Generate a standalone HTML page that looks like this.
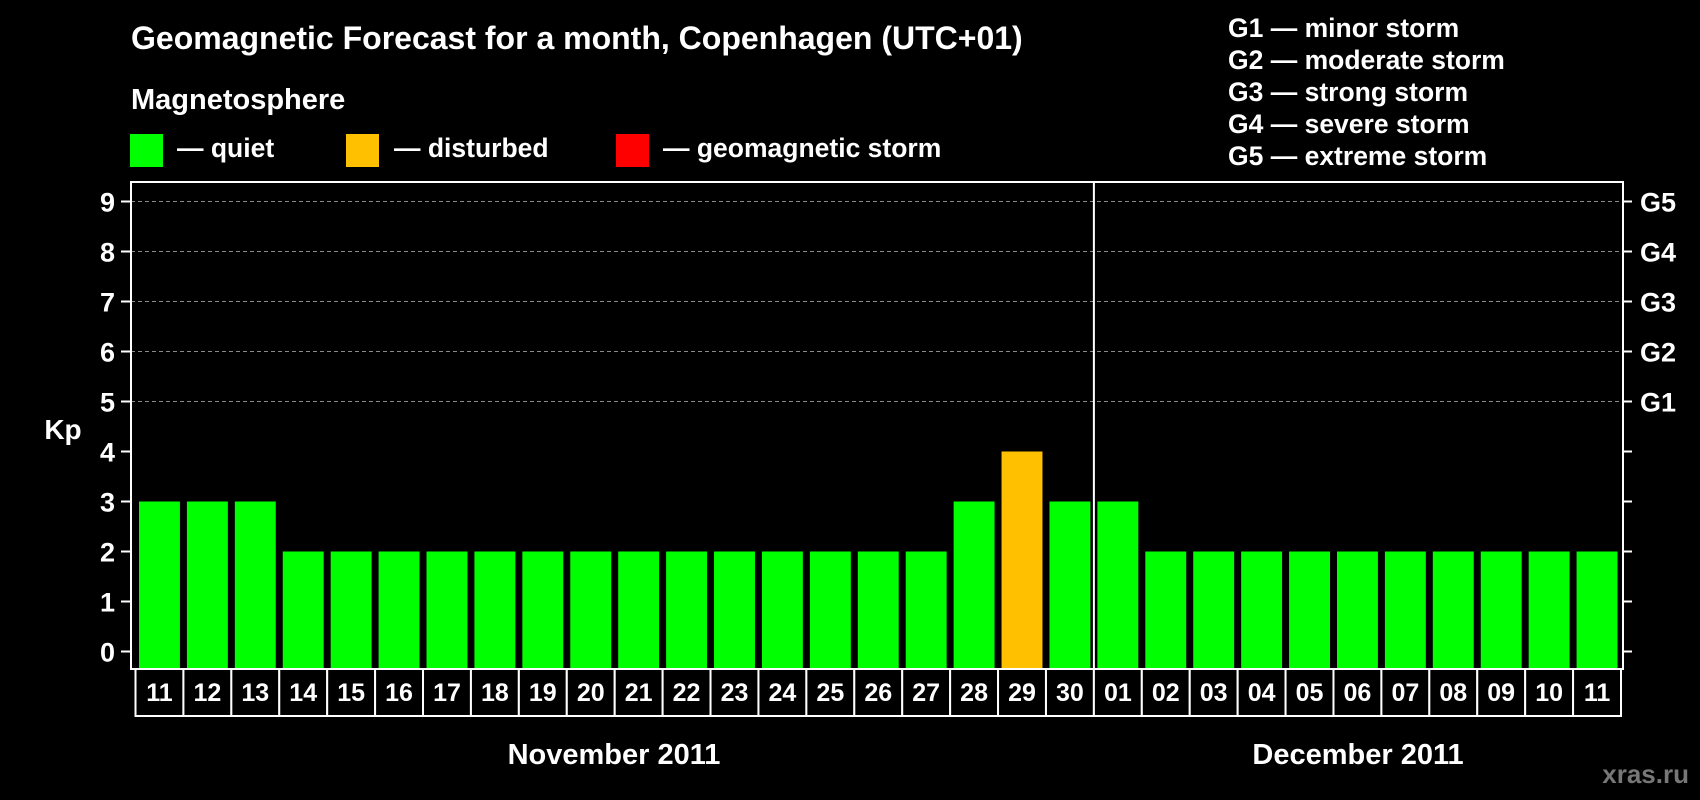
<!DOCTYPE html>
<html><head><meta charset="utf-8">
<style>
html,body{margin:0;padding:0;background:#000;}
svg{display:block;font-family:"Liberation Sans",Arial,sans-serif;font-weight:bold;}
</style></head>
<body>
<svg id="chart" width="1700" height="800" viewBox="0 0 1700 800">
<rect x="0" y="0" width="1700" height="800" fill="#000"/>
<text x="131" y="49" fill="#fff" font-size="32">Geomagnetic Forecast for a month, Copenhagen (UTC+01)</text>
<text x="131" y="109" fill="#fff" font-size="29">Magnetosphere</text>
<g>
<rect x="130" y="134" width="33" height="33" fill="#00ff00"/>
<text x="177" y="157" fill="#fff" font-size="26.5">— quiet</text></g>
<g>
<rect x="346" y="134" width="33" height="33" fill="#ffc000"/>
<text x="394" y="157" fill="#fff" font-size="26.5">— disturbed</text></g>
<g>
<rect x="616" y="134" width="33" height="33" fill="#ff0000"/>
<text x="663" y="157" fill="#fff" font-size="26.5">— geomagnetic storm</text></g>
<g fill="#fff" font-size="26.5">
<text x="1228" y="37">G1 — minor storm</text>
<text x="1228" y="69">G2 — moderate storm</text>
<text x="1228" y="101">G3 — strong storm</text>
<text x="1228" y="133">G4 — severe storm</text>
<text x="1228" y="165">G5 — extreme storm</text>
</g>
<text x="63" y="439" fill="#fff" font-size="28" text-anchor="middle">Kp</text>
<text x="614" y="764" fill="#fff" font-size="29" text-anchor="middle">November 2011</text>
<text x="1358" y="764" fill="#fff" font-size="29" text-anchor="middle">December 2011</text>
<text x="1689" y="783" fill="#777" font-size="26" text-anchor="end">xras.ru</text>
<g id="plot"></g>
</svg>
<script>
const days = ["11","12","13","14","15","16","17","18","19","20","21","22","23","24","25","26","27","28","29","30","01","02","03","04","05","06","07","08","09","10","11"];
const months = ["Nov","Nov","Nov","Nov","Nov","Nov","Nov","Nov","Nov","Nov","Nov","Nov","Nov","Nov","Nov","Nov","Nov","Nov","Nov","Nov","Dec","Dec","Dec","Dec","Dec","Dec","Dec","Dec","Dec","Dec","Dec"];
const kpValues = [3,3,3,2,2,2,2,2,2,2,2,2,2,2,2,2,2,3,4,3,3,2,2,2,2,2,2,2,2,2,2];
const yTicks = [0,1,2,3,4,5,6,7,8,9];
const stormLabels = ["G1","G2","G3","G4","G5"];

const NS = "http://www.w3.org/2000/svg";
const plot = document.getElementById("plot");
const L = 131, R = 1623, T = 182, B = 669;
const Y0 = 651.5, YU = 50;
function y(v){ return Y0 - v * YU; }
const novCount = months.filter(m => m === "Nov").length;
const cellStart = 135.5, cellEnd = 1621;
const pitch = (cellEnd - cellStart) / days.length;
function cellX(i){ return cellStart + i * pitch; }
const divX = cellX(novCount);
function color(v){ return v >= 5 ? "#ff0000" : (v >= 4 ? "#ffc000" : "#00ff00"); }
function mk(tag, attrs){ const e = document.createElementNS(NS, tag); for (const k in attrs) e.setAttribute(k, attrs[k]); plot.appendChild(e); return e; }

for (let v = 5; v <= 9; v++) {
  const g = mk("line", {x1: L, x2: R, y1: y(v), y2: y(v), stroke: "#8a8a8a", "stroke-width": 1, "stroke-dasharray": "4,3"});
  
  
}
kpValues.forEach((v, i) => {
  const x = cellX(i) + 3.5, w = pitch - 7;
  const r = mk("rect", {x: x, y: y(v), width: w, height: B - y(v), fill: color(v)});
  
  
});
const fr = mk("rect", {x: L, y: T, width: R - L, height: B - T, fill: "none", stroke: "#fff", "stroke-width": 2});


const dv = mk("line", {x1: divX, x2: divX, y1: T, y2: B, stroke: "#fff", "stroke-width": 2});


yTicks.forEach(v => {
  const t = mk("line", {x1: 121, x2: L, y1: y(v), y2: y(v), stroke: "#fff", "stroke-width": 2});
  
  
  const t2 = mk("line", {x1: R, x2: 1632, y1: y(v), y2: y(v), stroke: "#fff", "stroke-width": 2});
  
  
  const lb = mk("text", {x: 115, y: y(v) + 10, fill: "#fff", "font-size": 27, "text-anchor": "end"});
  lb.textContent = v;
  
  
});
stormLabels.forEach((s, k) => {
  const lb = mk("text", {x: 1640, y: y(5 + k) + 10, fill: "#fff", "font-size": 27});
  lb.textContent = s;
  
  
});
days.forEach((d, i) => {
  const x = cellX(i), w = pitch;
  const bx = mk("rect", {x: x, y: 669, width: w, height: 47, fill: "#000", stroke: "#fff", "stroke-width": 2});
  
  
  const t = mk("text", {x: x + w / 2, y: 701, fill: "#fff", "font-size": 25, "text-anchor": "middle"});
  t.textContent = d;
  
  
});
</script>
</body></html>
